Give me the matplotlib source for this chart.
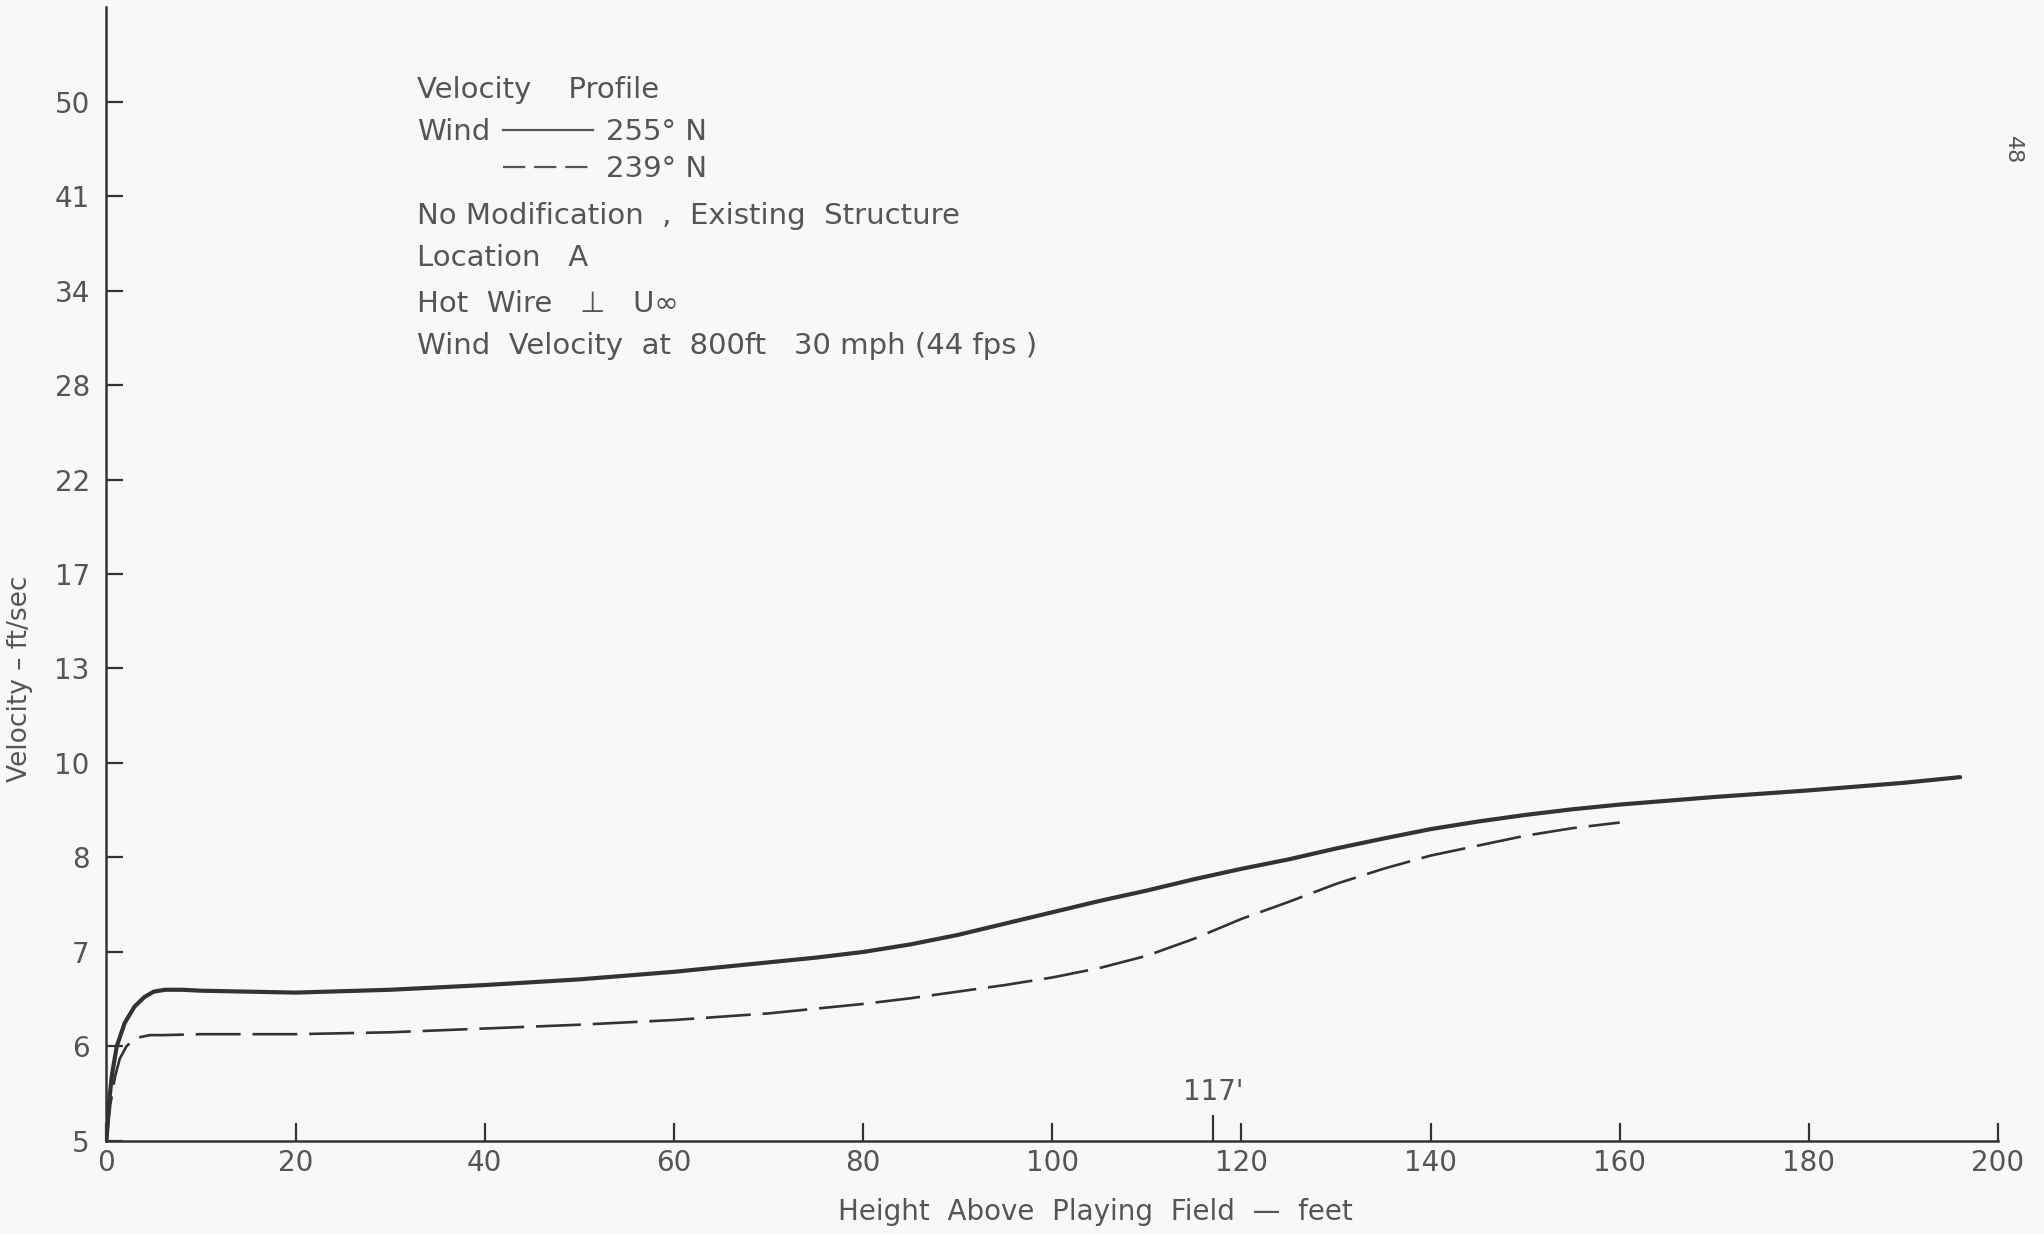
import numpy as np
import matplotlib
matplotlib.use("Agg")
import matplotlib.pyplot as plt
from matplotlib.lines import Line2D
from matplotlib.transforms import blended_transform_factory

# ---- data ----
y_ticks = [5, 6, 7, 8, 10, 13, 17, 22, 28, 34, 41, 50]
y_tick_labels = ["5", "6", "7", "8", "10", "13", "17", "22", "28", "34", "41", "50"]
x_ticks = [0, 20, 40, 60, 80, 100, 120, 140, 160, 180, 200]
x_tick_labels = ["0", "20", "40", "60", "80", "100", "120", "140", "160", "180", "200"]

h_255 = [0, 0.24, 0.58, 1.08, 1.93, 2.95, 3.97, 4.98, 6.2, 8, 10, 15, 20, 30, 40, 50,
         60, 70, 75, 80, 85, 90, 95, 100, 105, 110, 115, 120, 125, 130, 135, 140, 145,
         150, 155, 160, 165, 170, 175, 180, 185, 190, 196]
v_255 = [5.0, 5.38, 5.7, 6.0, 6.25, 6.42, 6.52, 6.58, 6.6, 6.6, 6.59, 6.58, 6.57, 6.6,
         6.65, 6.71, 6.79, 6.89, 6.94, 7.0, 7.08, 7.18, 7.3, 7.42, 7.54, 7.65, 7.77,
         7.88, 7.98, 8.19, 8.4, 8.6, 8.76, 8.9, 9.02, 9.12, 9.2, 9.28, 9.35, 9.42, 9.5,
         9.58, 9.7]

h_239 = [0, 0.4, 0.9, 1.4, 2.1, 2.8, 3.6, 4.6, 6, 10, 20, 30, 40, 50, 60, 70, 80, 85,
         90, 95, 100, 105, 110, 115, 120, 125, 130, 135, 140, 145, 150, 155, 160]
v_239 = [5.0, 5.38, 5.68, 5.87, 6.0, 6.07, 6.1, 6.12, 6.12, 6.13, 6.13, 6.15, 6.19,
         6.23, 6.28, 6.35, 6.45, 6.51, 6.58, 6.65, 6.73, 6.83, 6.96, 7.14, 7.35, 7.53,
         7.72, 7.88, 8.04, 8.25, 8.46, 8.62, 8.74]

marker_height = 117

# ---- non-uniform velocity scale (equal spacing between the printed ticks) ----
scale_vals = np.array(y_ticks + [60], dtype=float)
scale_idx = np.arange(len(scale_vals), dtype=float)

def fwd(v):
    return np.interp(v, scale_vals, scale_idx)

def inv(i):
    return np.interp(i, scale_idx, scale_vals)

ink = "#333333"
txt = "#555555"
bg = "#f8f8f6"

plt.rcParams["font.family"] = ["DejaVu Sans"]

fig = plt.figure(figsize=(20.44, 12.34), dpi=100, facecolor=bg)
ax = fig.add_axes([0.0521, 0.0754, 0.9775 - 0.0521, 0.9943 - 0.0754])
ax.set_facecolor(bg)
ax.set_yscale("function", functions=(fwd, inv))
ax.set_xlim(0, 200)
ax.set_ylim(5, 60)

ax.plot(h_255, v_255, color=ink, lw=3.0, solid_capstyle="round", solid_joinstyle="round")
ax.plot(h_239, v_239, color=ink, lw=1.9, dashes=(17, 4.5))

for s in ["top", "right"]:
    ax.spines[s].set_visible(False)
for s in ["left", "bottom"]:
    ax.spines[s].set_color(ink)
    ax.spines[s].set_linewidth(1.8)

ax.set_yticks(y_ticks)
ax.set_yticklabels(y_tick_labels)
ax.set_xticks(x_ticks)
ax.set_xticklabels(x_tick_labels)
ax.yaxis.set_minor_locator(matplotlib.ticker.NullLocator())
ax.tick_params(axis="y", direction="in", length=12, width=1.6, color=ink,
               labelsize=20, labelcolor=txt, pad=12)
ax.tick_params(axis="x", direction="in", length=13, width=1.6, color=ink,
               labelsize=20, labelcolor=txt, pad=6)

# 117' marker tick
ax.set_xticks([marker_height], minor=True)
ax.tick_params(axis="x", which="minor", direction="in", length=19, width=1.6, color=ink,
               labelbottom=False)
tr = blended_transform_factory(ax.transData, ax.transAxes)
ax.annotate(f"{marker_height}'", xy=(marker_height, 0), xycoords=tr,
            xytext=(0, 25), textcoords="offset points", ha="center", va="bottom",
            fontsize=20, color=txt)

# axis labels
fig.text(0.010, 0.45, "Velocity – ft/sec", rotation=90, ha="center", va="center",
         fontsize=19, color=txt)
fig.text(0.536, 0.018, "Height  Above  Playing  Field  —  feet", ha="center", va="center",
         fontsize=20, color=txt)

# annotation block
fs = 21
x0 = 0.204
fig.text(x0, 0.927, "Velocity    Profile", fontsize=fs, color=txt, va="center")
fig.text(x0, 0.893, "Wind", fontsize=fs, color=txt, va="center")
fig.add_artist(Line2D([503 / 2044, 593 / 2044], [0.895, 0.895], transform=fig.transFigure,
                      color=txt, lw=1.6))
fig.text(606 / 2044, 0.893, "255° N", fontsize=fs, color=txt, va="center")
fig.add_artist(Line2D([503 / 2044, 593 / 2044], [0.865, 0.865], transform=fig.transFigure,
                      color=txt, lw=1.6, dashes=(10, 4)))
fig.text(606 / 2044, 0.863, "239° N", fontsize=fs, color=txt, va="center")
fig.text(x0, 0.825, "No Modification  ,  Existing  Structure", fontsize=fs, color=txt, va="center")
fig.text(x0, 0.791, "Location   A", fontsize=fs, color=txt, va="center")
fig.text(x0, 0.754, "Hot  Wire   ⊥   U∞", fontsize=fs, color=txt, va="center")
fig.text(x0, 0.720, "Wind  Velocity  at  800ft   30 mph (44 fps )", fontsize=fs, color=txt, va="center")

# page number
fig.text(0.985, 0.878, "48", rotation=-90, ha="center", va="center", fontsize=16, color=txt)

fig.savefig("out.png", dpi=100, facecolor=bg)
